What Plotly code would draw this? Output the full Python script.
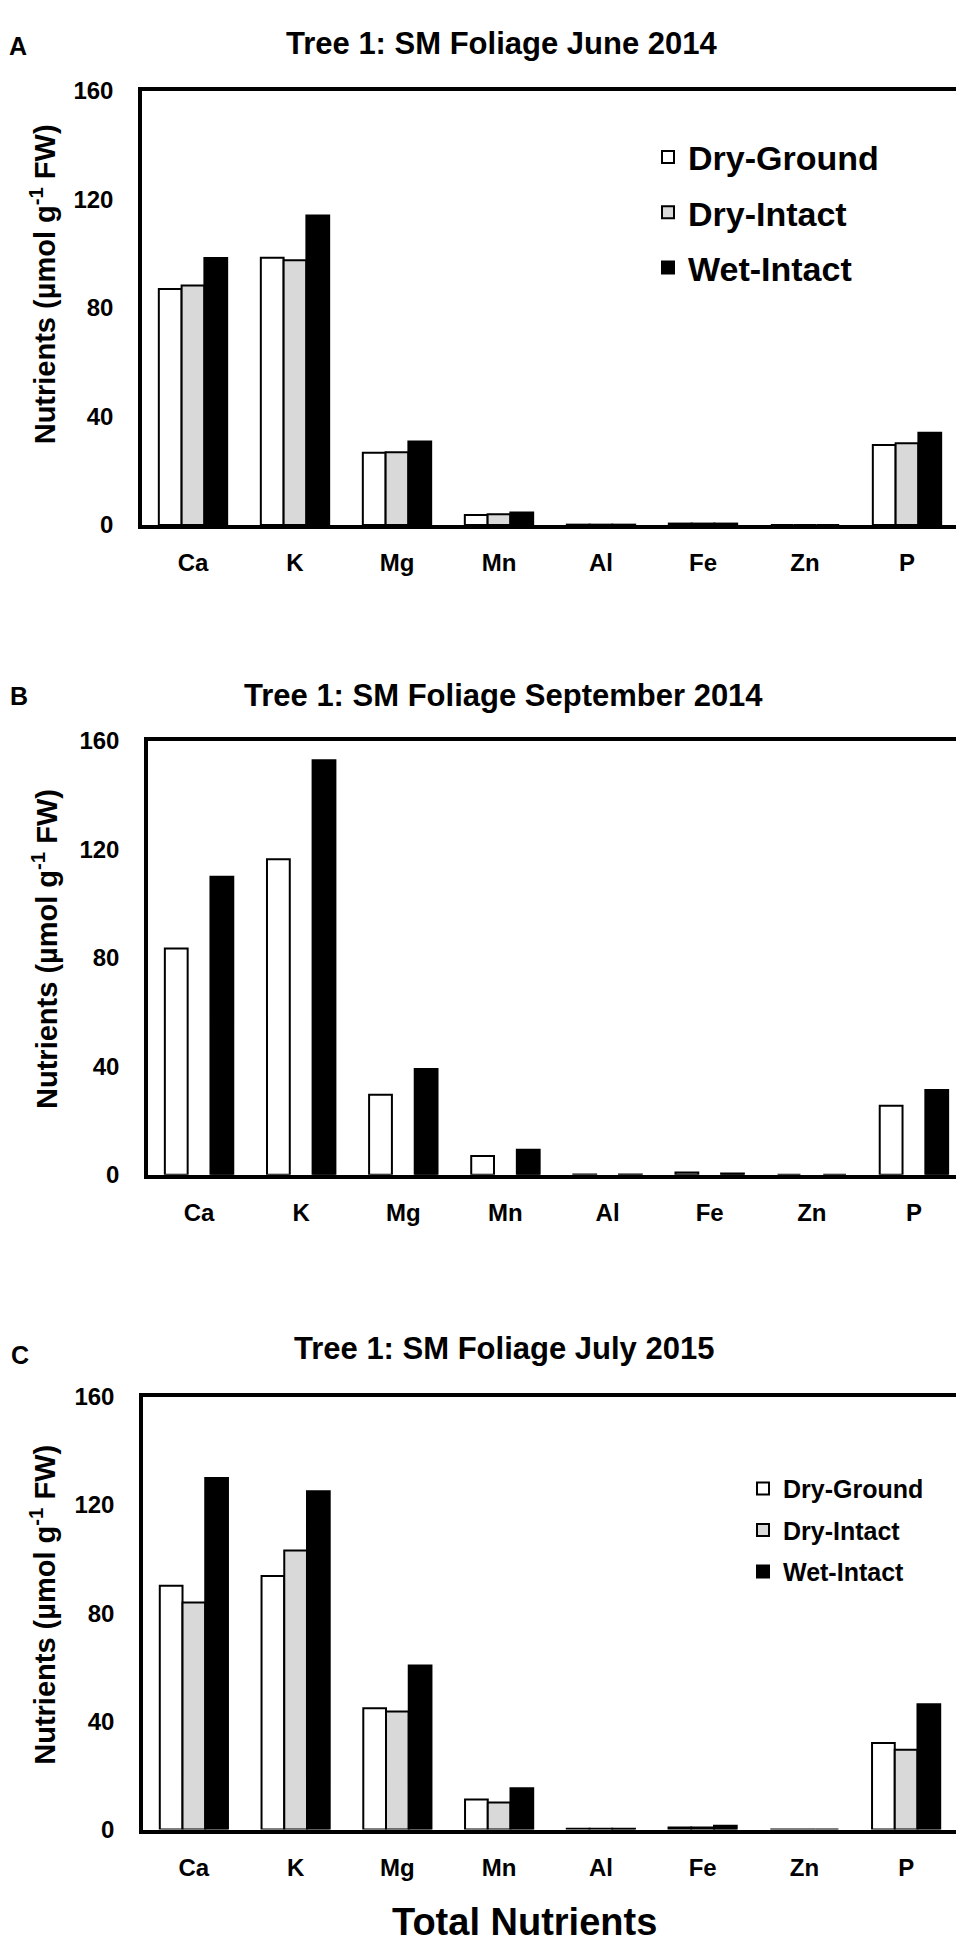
import plotly.graph_objects as go

# nutrient categories on the x axis
categories = ["Ca", "K", "Mg", "Mn", "Al", "Fe", "Zn", "P"]
series_names = ["Dry-Ground", "Dry-Intact", "Wet-Intact"]
y_ticks = [0, 40, 80, 120, 160]

# A: June 2014
dry_ground_jun14 = [87.0, 98.5, 26.6, 3.7, 0.1, 0.5, 0.0, 29.5]
dry_intact_jun14 = [88.3, 97.6, 26.8, 3.9, 0.1, 0.5, 0.0, 30.1]
wet_intact_jun14 = [98.4, 114.1, 30.8, 4.6, 0.1, 0.5, 0.0, 34.0]

# B: September 2014 (no dry-intact samples)
dry_ground_sep14 = [83.4, 116.4, 29.5, 6.9, 0.1, 0.8, 0.0, 25.5]
dry_intact_sep14 = [None, None, None, None, None, None, None, None]
wet_intact_sep14 = [109.9, 152.9, 39.0, 9.2, 0.1, 0.5, 0.0, 31.3]

# C: July 2015
dry_ground_jul15 = [90.1, 93.7, 44.8, 11.1, 0.3, 0.8, 0.0, 32.0]
dry_intact_jul15 = [83.9, 103.1, 43.6, 10.0, 0.3, 0.8, 0.0, 29.5]
wet_intact_jul15 = [129.9, 125.0, 60.6, 15.3, 0.3, 1.4, 0.0, 46.3]

titles = ["Tree 1: SM Foliage June 2014",
          "Tree 1: SM Foliage September 2014",
          "Tree 1: SM Foliage July 2015"]
letters = ["A", "B", "C"]

W, H = 964, 1946
FONT = "Arial, 'Liberation Sans', sans-serif"
colors = ["white", "#d9d9d9", "black"]


def fx(x):
    return x / W


def fy(y):
    return 1 - y / H


panels = [
    dict(data=[dry_ground_jun14, dry_intact_jun14, wet_intact_jun14],
         box=(134, 950, 70, 510), legend="legend",
         title_xy=(494, 22), letter_xy=(10, 24), ytitle_xy=(35, 266)),
    dict(data=[dry_ground_sep14, dry_intact_sep14, wet_intact_sep14],
         box=(140, 957, 729, 1169), legend=None,
         title_xy=(496, 683), letter_xy=(11, 683), ytitle_xy=(37, 940)),
    dict(data=[dry_ground_jul15, dry_intact_jul15, wet_intact_jul15],
         box=(135, 949, 1394, 1833), legend="legend2",
         title_xy=(496, 1345), letter_xy=(12, 1352), ytitle_xy=(35, 1605)),
]

fig = go.Figure()
annotations = []
layout_axes = {}

for i, p in enumerate(panels):
    sfx = "" if i == 0 else str(i + 1)
    for j, vals in enumerate(p["data"]):
        fig.add_trace(go.Bar(
            x=categories, y=vals, name=series_names[j],
            marker=dict(color=colors[j], line=dict(color="black", width=2)),
            xaxis="x" + sfx, yaxis="y" + sfx,
            showlegend=p["legend"] is not None,
            legend=p["legend"] if p["legend"] else "legend",
            legendgroup=f"{i}_{j}",
        ))

    x0, x1, y0, y1 = p["box"]
    layout_axes["xaxis" + sfx] = dict(
        domain=[fx(x0), fx(x1)], anchor="y" + sfx,
        showline=True, linewidth=3.5, linecolor="black", mirror=True,
        ticks="", showgrid=False, zeroline=False, ticklabelstandoff=14,
        tickfont=dict(family=FONT, size=24, color="black", weight="bold"),
    )
    layout_axes["yaxis" + sfx] = dict(
        domain=[fy(y1), fy(y0)], anchor="x" + sfx, range=[0, 160],
        tickvals=y_ticks,
        showline=True, linewidth=3.5, linecolor="black", mirror=True,
        ticks="", showgrid=False, zeroline=False, ticklabelstandoff=20,
        tickfont=dict(family=FONT, size=24, color="black", weight="bold"),
    )

    tx, ty = p["title_xy"]
    annotations.append(dict(
        text=titles[i], x=fx(tx), y=fy(ty), xref="paper", yref="paper",
        showarrow=False, xanchor="center", yanchor="middle",
        font=dict(family=FONT, size=31, color="black", weight="bold")))
    lx, ly = p["letter_xy"]
    annotations.append(dict(
        text=letters[i], x=fx(lx), y=fy(ly), xref="paper", yref="paper",
        showarrow=False, xanchor="center", yanchor="middle",
        font=dict(family=FONT, size=25, color="black", weight="bold")))
    ax, ay = p["ytitle_xy"]
    annotations.append(dict(
        text="Nutrients (µmol g<sup>-1</sup> FW)", x=fx(ax), y=fy(ay),
        xref="paper", yref="paper", textangle=-90,
        showarrow=False, xanchor="center", yanchor="middle",
        font=dict(family=FONT, size=29, color="black", weight="bold")))

annotations.append(dict(
    text="Total Nutrients", x=fx(516), y=fy(1927), xref="paper", yref="paper",
    showarrow=False, xanchor="center", yanchor="middle",
    font=dict(family=FONT, size=38, color="black", weight="bold")))

fig.update_layout(
    width=W, height=H,
    margin=dict(l=0, r=0, t=0, b=0),
    paper_bgcolor="white", plot_bgcolor="white",
    barmode="group", bargap=0.33, bargroupgap=0,
    annotations=annotations,
    legend=dict(x=fx(640), y=fy(108), xanchor="left", yanchor="top",
                tracegroupgap=8, bgcolor="rgba(0,0,0,0)",
                font=dict(family=FONT, size=34, color="black", weight="bold")),
    legend2=dict(x=fx(735), y=fy(1464), xanchor="left", yanchor="top",
                 tracegroupgap=6, bgcolor="rgba(0,0,0,0)",
                 font=dict(family=FONT, size=25, color="black", weight="bold")),
    **layout_axes,
)

fig.write_html("out.html")
